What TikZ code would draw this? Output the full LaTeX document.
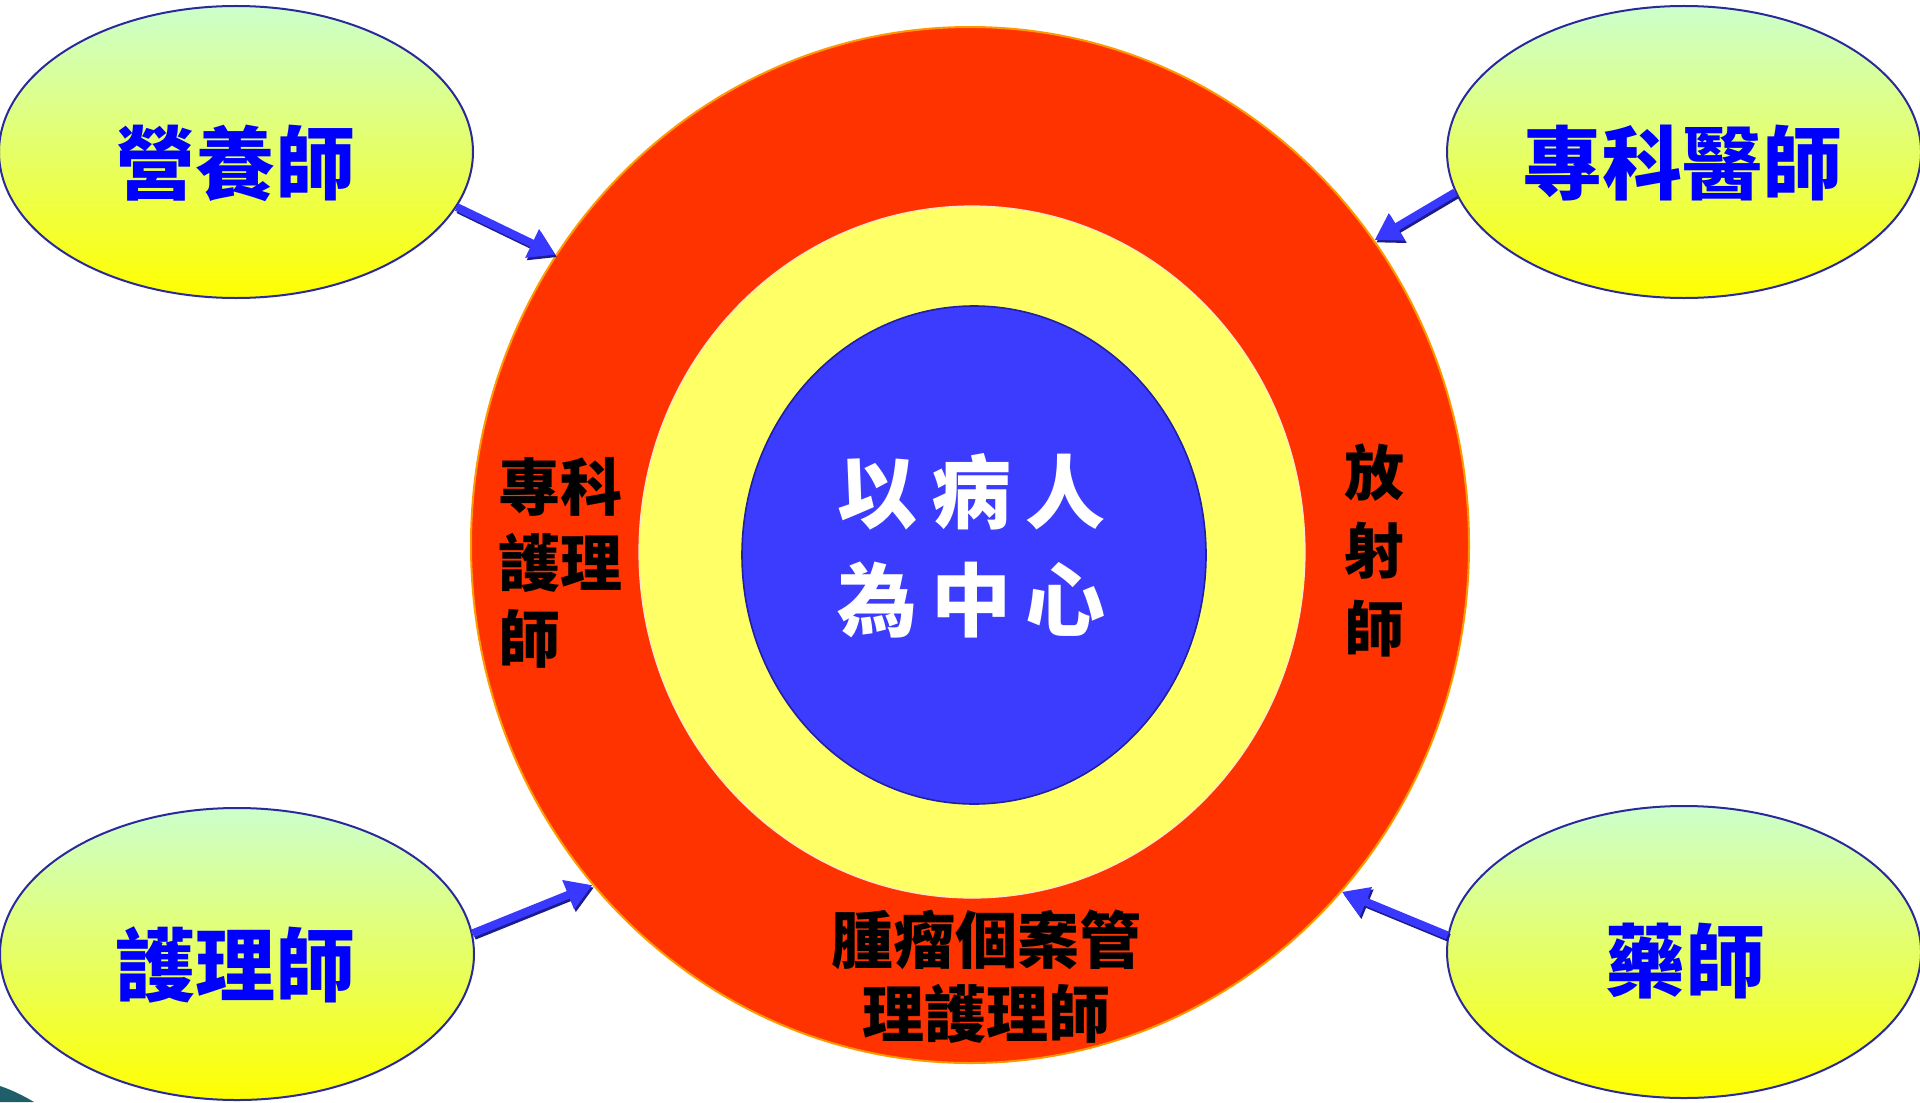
\documentclass[tikz,border=0pt]{standalone}
\usepackage{fontspec}
\newfontfamily\cjk{Noto Sans CJK TC}
\usetikzlibrary{shapes.geometric,arrows.meta}
\definecolor{ringred}{HTML}{FF3300}
\definecolor{ringedge}{HTML}{FF9900}
\definecolor{midyellow}{HTML}{FFFF66}
\definecolor{coreblue}{HTML}{3C3CFF}
\definecolor{coreedge}{HTML}{2020A0}
\definecolor{ovaledge}{HTML}{2A2A9A}
\definecolor{ovaltop}{HTML}{CCFFCC}
\definecolor{ovalbot}{HTML}{FFFF00}
\definecolor{arrowblue}{HTML}{3838FF}
\definecolor{arrowshade}{HTML}{1C1C8C}
\definecolor{labelblue}{HTML}{0000FF}
\definecolor{tealbit}{HTML}{1F5F6A}
\begin{document}
\begin{tikzpicture}[x=0.5pt,y=-0.5pt,
  oval/.style={ellipse, draw=ovaledge, line width=1pt, top color=ovaltop, bottom color=ovalbot,
    minimum width=237pt, minimum height=146pt, inner sep=0pt},
  ovallabel/.style={font=\cjk\bfseries\fontsize{40}{48}\selectfont, text=labelblue, inner sep=0pt},
  ringlabel/.style={font=\cjk\bfseries\fontsize{31}{38}\selectfont, text=black, inner sep=0pt},
  fatarrow/.style={line width=4pt, -{Triangle[width=15pt,length=13pt]}},
  arrowmain/.style={fatarrow, draw=arrowblue, fill=arrowblue},
  arrowshadow/.style={fatarrow, draw=arrowshade, fill=arrowshade, transform canvas={shift={(0.8pt,-1.2pt)}}},
]
\useasboundingbox (0,0) rectangle (1920,1102);
\fill[white] (0,0) rectangle (1920,1102);

% corner sliver
\fill[tealbit] (0,1086) .. controls (12,1090) and (24,1096) .. (34,1102) -- (0,1102) -- cycle;

% concentric rings
\node[ellipse, fill=ringred, draw=ringedge, line width=1pt, minimum width=499pt, minimum height=518pt, inner sep=0pt] (ring) at (970,545) {};
\node[ellipse, fill=midyellow, draw=white!80!orange, line width=0.6pt, minimum width=333pt, minimum height=346pt, inner sep=0pt] (mid) at (972,552) {};
\node[ellipse, fill=coreblue, draw=coreedge, line width=0.8pt, minimum width=232pt, minimum height=249pt, inner sep=0pt] (core) at (974,555) {};

% centre text
\node[font=\cjk\bfseries\fontsize{40}{54}\selectfont, text=white, align=center, inner sep=0pt] (centre) at (971,546)
  {以\kern7pt 病\kern7pt 人\\為\kern7pt 中\kern7pt 心};

% ring texts
\node[ringlabel, align=left] (leftlbl) at (560,563) {專科\\護理\\師};
\node[ringlabel, align=center, font=\cjk\bfseries\fontsize{30}{39}\selectfont] (rightlbl) at (1374,551) {放\\射\\師};
\node[ringlabel, align=center, font=\cjk\bfseries\fontsize{31}{37}\selectfont] (bottomlbl) at (986,977) {腫瘤個案管\\理護理師};

% outer ovals
\node[oval] (tl) at (236,152) {};
\node[oval] (tr) at (1684,152) {};
\node[oval] (bl) at (237,954) {};
\node[oval] (br) at (1684,952) {};

\node[ovallabel] (tlt) at (235,163) {營養師};
\node[ovallabel] (trt) at (1682,163) {專科醫師};
\node[ovallabel] (blt) at (235,965) {護理師};
\node[ovallabel] (brt) at (1685,961) {藥師};

% arrows
\draw[arrowshadow] (tl.-14) -- (ring.145);
\draw[arrowmain] (tl.-14) -- (ring.145);
\draw[arrowshadow] (tr.-170) -- (ring.37);
\draw[arrowmain] (tr.-170) -- (ring.37);
\draw[arrowshadow] (bl.5) -- (ring.222);
\draw[arrowmain] (bl.5) -- (ring.222);
\draw[arrowshadow] (br.176) -- (ring.-43);
\draw[arrowmain] (br.176) -- (ring.-43);
\end{tikzpicture}
\end{document}
